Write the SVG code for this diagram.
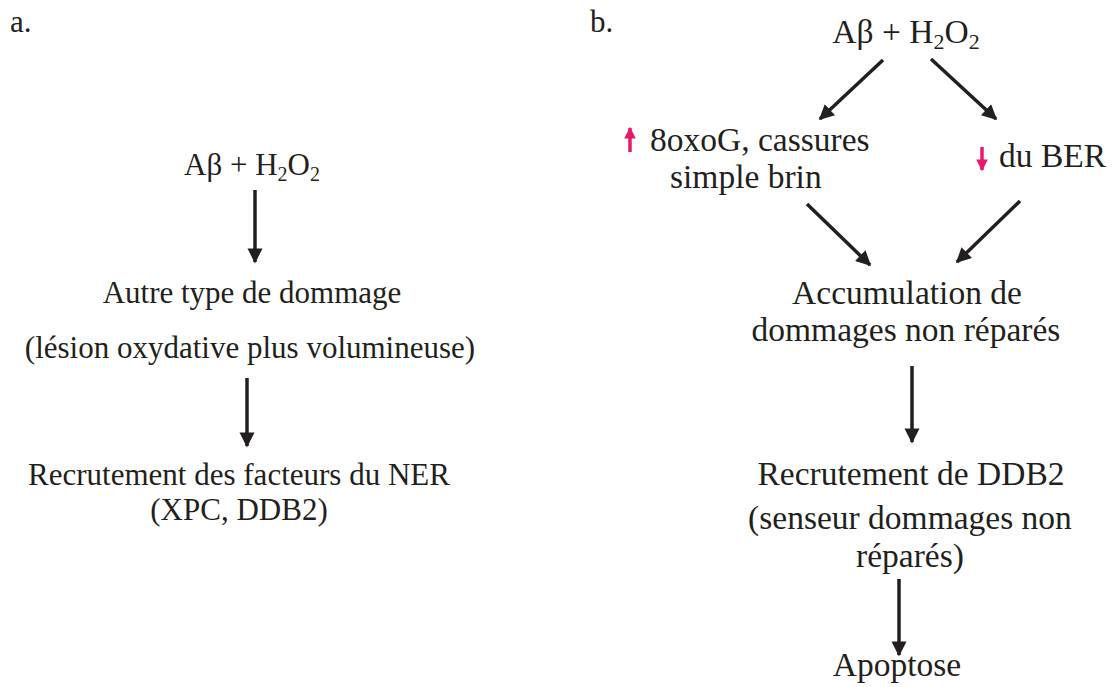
<svg xmlns="http://www.w3.org/2000/svg" width="1114" height="687" viewBox="0 0 1114 687" font-family="'Liberation Serif','Times New Roman',serif">
<defs>
<style>
text{font-family:"Liberation Serif","Times New Roman",serif;font-size:31px;fill:#231f20}
.b text{font-size:33.5px}
.c{text-anchor:middle}
.sub{font-size:20px}
.b .sub{font-size:22px}
.conn line{stroke:#231f20;stroke-width:3.5}
.red line{stroke:#e8196a;stroke-width:3.5}
</style>
<marker id="ah" viewBox="0 0 10 10" refX="9" refY="5" markerWidth="4.5" markerHeight="4.3" markerUnits="strokeWidth" orient="auto">
<path d="M0,0 L10,5 L0,10 z" fill="#231f20"/>
</marker>
<marker id="rh" viewBox="0 0 10 10" refX="9" refY="5" markerWidth="3.5" markerHeight="3.3" markerUnits="strokeWidth" orient="auto">
<path d="M0,0 L10,5 L0,10 z" fill="#e8196a"/>
</marker>
</defs>
<rect width="1114" height="687" fill="#fff"/>
<g id="label-a"><text x="10" y="32">a.</text></g>
<g id="label-b"><text x="590" y="32">b.</text></g>

<g id="a-start"><text class="c" x="252" y="175">Aβ + H<tspan class="sub" dy="6">2</tspan><tspan dy="-6">O</tspan><tspan class="sub" dy="6">2</tspan></text></g>
<g id="a-damage"><text class="c" x="252" y="303">Autre type de dommage</text><text class="c" x="250" y="358">(lésion oxydative plus volumineuse)</text></g>
<g id="a-ner"><text class="c" x="239" y="485">Recrutement des facteurs du NER</text><text class="c" x="239" y="520">(XPC, DDB2)</text></g>

<g class="b">
<g id="b-start"><text class="c" x="906" y="43">Aβ + H<tspan class="sub" dy="6">2</tspan><tspan dy="-6">O</tspan><tspan class="sub" dy="6">2</tspan></text></g>
<g id="b-8oxog"><text x="650" y="151">8oxoG, cassures</text><text x="670" y="188">simple brin</text></g>
<g id="b-ber"><text x="999" y="167">du BER</text></g>
<g id="b-accum"><text class="c" x="907" y="304">Accumulation de</text><text class="c" x="906" y="341">dommages non réparés</text></g>
<g id="b-ddb2"><text class="c" x="911" y="485">Recrutement de DDB2</text><text class="c" x="910" y="529">(senseur dommages non</text><text class="c" x="910" y="567">réparés)</text></g>
<g id="b-apoptose"><text class="c" x="897" y="676">Apoptose</text></g>
</g>

<g id="connectors" class="conn">
<line x1="255" y1="190" x2="255" y2="262" marker-end="url(#ah)"/>
<line x1="247" y1="378" x2="247" y2="446" marker-end="url(#ah)"/>
<line x1="883" y1="60" x2="820" y2="119" marker-end="url(#ah)"/>
<line x1="931" y1="59" x2="996" y2="119" marker-end="url(#ah)"/>
<line x1="807" y1="204" x2="870" y2="265" marker-end="url(#ah)"/>
<line x1="1020" y1="201" x2="957" y2="262" marker-end="url(#ah)"/>
<line x1="912" y1="366" x2="912" y2="442" marker-end="url(#ah)"/>
<line x1="899" y1="579" x2="899" y2="655" marker-end="url(#ah)"/>
</g>
<g id="indicators" class="red">
<line x1="630" y1="152" x2="630" y2="128" marker-end="url(#rh)"/>
<line x1="982" y1="147" x2="982" y2="170" marker-end="url(#rh)"/>
</g>
</svg>
